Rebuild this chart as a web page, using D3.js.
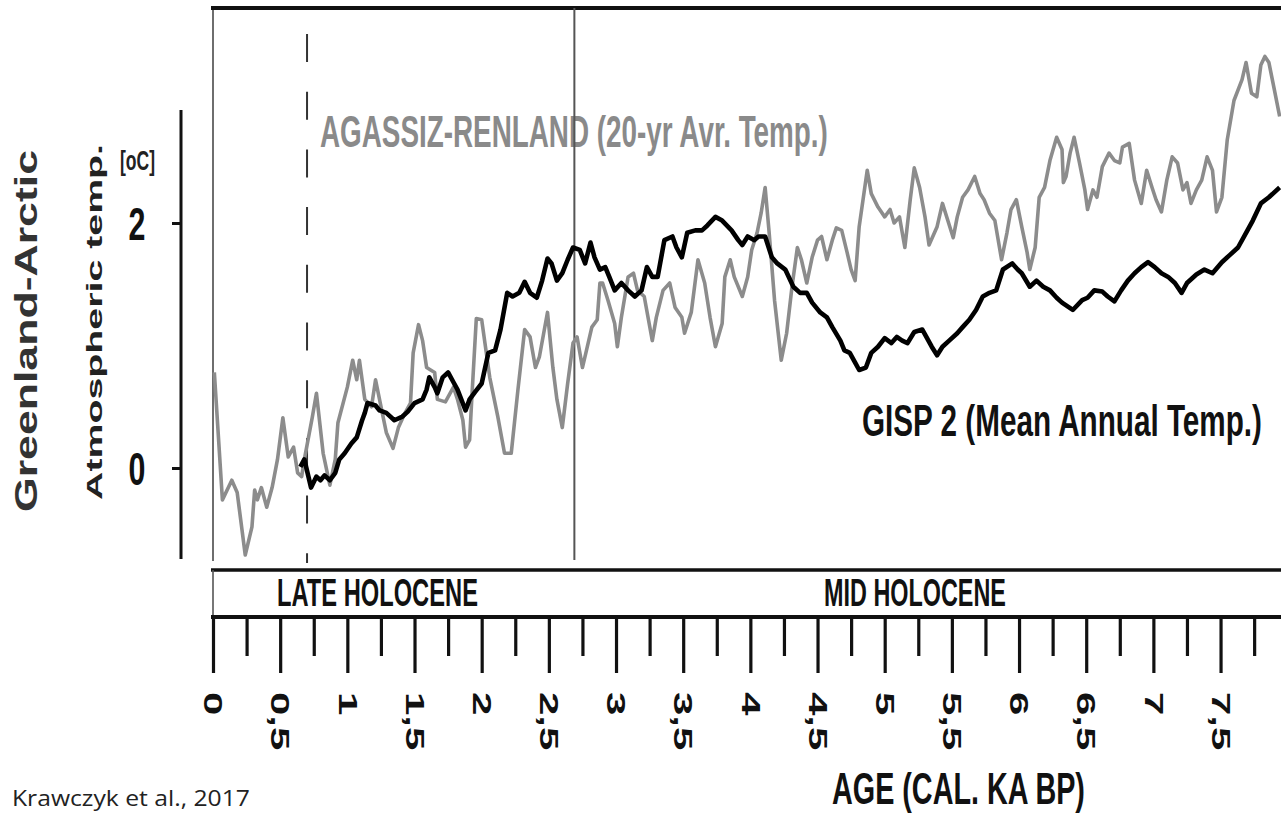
<!DOCTYPE html>
<html><head><meta charset="utf-8">
<script src="https://cdn.jsdelivr.net/npm/d3@7"></script>
<style>body{margin:0;background:#fff}svg{display:block}</style>
</head><body><svg id="c" width="1281" height="816"></svg>
<script>
// ---------- DATA ----------
const agassizAge = [0.01,0.07,0.14,0.18,0.24,0.29,0.31,0.33,0.36,0.40,
0.44,0.48,0.52,0.56,0.60,0.63,0.66,0.68,0.74,0.77,
0.82,0.87,0.91,0.93,1.00,1.04,1.07,1.09,1.13,1.18,
1.21,1.26,1.29,1.34,1.38,1.43,1.47,1.49,1.53,1.56,
1.59,1.65,1.67,1.73,1.79,1.82,1.86,1.88,1.91,1.93,
1.96,2.00,2.06,2.12,2.17,2.22,2.27,2.32,2.36,2.40,
2.43,2.49,2.53,2.56,2.60,2.64,2.68,2.71,2.75,2.78,
2.82,2.86,2.88,2.90,2.94,2.99,3.01,3.04,3.09,3.13,
3.16,3.21,3.27,3.30,3.35,3.40,3.44,3.49,3.51,3.56,
3.61,3.66,3.70,3.74,3.79,3.81,3.85,3.88,3.94,3.98,
4.01,4.05,4.08,4.11,4.14,4.18,4.23,4.27,4.31,4.35,
4.38,4.42,4.46,4.50,4.53,4.57,4.61,4.64,4.68,4.72,
4.75,4.78,4.81,4.87,4.90,4.95,5.00,5.04,5.07,5.11,
5.15,5.19,5.22,5.26,5.30,5.33,5.39,5.43,5.47,5.51,
5.54,5.58,5.62,5.67,5.71,5.74,5.78,5.82,5.87,5.91,
5.94,5.98,6.02,6.06,6.08,6.12,6.15,6.19,6.23,6.28,
6.32,6.33,6.35,6.38,6.41,6.45,6.49,6.51,6.55,6.58,
6.62,6.67,6.71,6.75,6.77,6.82,6.86,6.91,6.95,6.99,
7.02,7.06,7.10,7.14,7.18,7.22,7.25,7.28,7.32,7.36,
7.40,7.44,7.47,7.51,7.55,7.60,7.66,7.69,7.73,7.77,
7.80,7.83,7.86,7.90,7.94];
const agassizTemp = [0.78,-0.26,-0.10,-0.20,-0.71,-0.48,-0.18,-0.26,-0.16,-0.32,
-0.16,0.07,0.41,0.09,0.17,-0.04,-0.07,0.07,0.42,0.61,
0.12,-0.14,0.07,0.37,0.66,0.88,0.72,0.88,0.56,0.50,
0.72,0.45,0.29,0.16,0.33,0.45,0.53,0.94,1.17,1.04,
0.82,0.78,0.56,0.54,0.66,0.56,0.39,0.17,0.23,0.64,
1.22,1.21,0.74,0.42,0.12,0.12,0.64,1.13,1.07,0.82,
0.91,1.27,0.82,0.56,0.33,0.69,1.02,1.07,0.82,0.96,
1.15,1.21,1.51,1.51,1.37,1.18,0.99,1.23,1.56,1.59,
1.45,1.40,1.04,1.23,1.45,1.51,1.31,1.23,1.10,1.27,
1.70,1.51,1.23,0.99,1.18,1.56,1.70,1.56,1.40,1.56,
1.78,1.92,2.08,2.29,1.92,1.37,0.88,1.10,1.48,1.80,
1.70,1.51,1.72,1.86,1.89,1.70,1.86,1.96,1.94,1.76,
1.62,1.53,1.97,2.43,2.24,2.13,2.05,2.11,2.00,2.05,
1.80,2.19,2.45,2.29,2.05,1.82,1.97,2.16,2.02,1.88,
2.05,2.21,2.27,2.38,2.24,2.19,2.08,2.02,1.70,1.92,
2.11,2.19,1.97,1.76,1.62,1.80,2.21,2.29,2.51,2.70,
2.60,2.33,2.38,2.57,2.70,2.49,2.27,2.11,2.27,2.21,
2.46,2.57,2.51,2.49,2.62,2.65,2.35,2.16,2.43,2.29,
2.19,2.09,2.35,2.54,2.49,2.27,2.33,2.16,2.27,2.35,
2.54,2.43,2.09,2.21,2.68,3.00,3.17,3.31,3.06,3.03,
3.29,3.36,3.31,3.09,2.87];

const gispAge = [0.65,0.68,0.73,0.77,0.80,0.83,0.87,0.91,0.94,0.98,
1.03,1.07,1.11,1.13,1.15,1.21,1.24,1.29,1.35,1.41,
1.45,1.50,1.56,1.59,1.61,1.65,1.67,1.71,1.75,1.79,
1.82,1.88,1.91,1.95,2.00,2.05,2.10,2.14,2.19,2.23,
2.28,2.32,2.36,2.41,2.45,2.49,2.52,2.56,2.60,2.64,
2.68,2.73,2.77,2.81,2.84,2.88,2.92,2.95,2.99,3.04,
3.09,3.14,3.19,3.23,3.27,3.31,3.36,3.42,3.45,3.49,
3.53,3.59,3.64,3.68,3.74,3.79,3.86,3.91,3.94,3.98,
4.03,4.06,4.11,4.16,4.20,4.26,4.32,4.37,4.42,4.46,
4.52,4.57,4.61,4.67,4.70,4.74,4.78,4.81,4.86,4.90,
4.95,5.00,5.05,5.09,5.13,5.17,5.22,5.28,5.31,5.35,
5.39,5.43,5.48,5.54,5.58,5.63,5.68,5.73,5.78,5.83,
5.88,5.95,5.99,6.02,6.08,6.13,6.18,6.23,6.28,6.32,
6.40,6.47,6.51,6.56,6.62,6.66,6.71,6.76,6.81,6.86,
6.91,6.96,7.01,7.06,7.11,7.16,7.21,7.25,7.32,7.38,
7.44,7.51,7.57,7.63,7.69,7.74,7.80,7.86,7.94];
const gispTemp = [0.01,0.07,-0.16,-0.07,-0.10,-0.06,-0.10,-0.04,0.07,0.12,
0.20,0.25,0.39,0.45,0.53,0.51,0.47,0.45,0.39,0.42,
0.46,0.53,0.56,0.64,0.74,0.66,0.61,0.74,0.78,0.70,
0.64,0.47,0.56,0.62,0.69,0.94,0.96,1.13,1.43,1.40,
1.43,1.52,1.43,1.39,1.53,1.71,1.67,1.53,1.59,1.70,
1.80,1.78,1.67,1.84,1.72,1.62,1.64,1.56,1.45,1.51,
1.45,1.40,1.45,1.64,1.56,1.56,1.86,1.89,1.80,1.72,
1.92,1.94,1.94,1.98,2.05,2.02,1.94,1.86,1.82,1.89,
1.86,1.89,1.89,1.72,1.67,1.62,1.48,1.43,1.43,1.35,
1.27,1.23,1.15,1.04,0.96,0.94,0.86,0.80,0.82,0.94,
0.99,1.06,1.02,1.07,1.04,1.02,1.11,1.13,1.07,0.99,
0.92,0.99,1.04,1.10,1.15,1.21,1.29,1.40,1.43,1.45,
1.62,1.67,1.62,1.59,1.48,1.53,1.48,1.45,1.39,1.35,
1.29,1.37,1.39,1.45,1.44,1.40,1.36,1.45,1.53,1.59,
1.64,1.68,1.64,1.59,1.56,1.51,1.43,1.51,1.58,1.62,
1.59,1.68,1.74,1.80,1.92,2.02,2.16,2.21,2.29];

const xMajorTicks = [0,0.5,1,1.5,2,2.5,3,3.5,4,4.5,5,5.5,6,6.5,7,7.5];
const xTickLabels = ["0","0,5","1","1,5","2","2,5","3","3,5","4","4,5","5","5,5","6","6,5","7","7,5"];
const xMinorTicks = [0.25,0.75,1.25,1.75,2.25,2.75,3.25,3.75,4.25,4.75,5.25,5.75,6.25,6.75,7.25,7.75];
const yTicks = [0,2];
const yTickLabels = ["0","2"];
const boundaryAges = [0.70, 2.69];            // dashed, solid
const periodNames = ["LATE HOLOCENE","MID HOLOCENE"];
const seriesNames = ["AGASSIZ-RENLAND (20-yr Avr. Temp.)","GISP 2 (Mean Annual Temp.)"];

// ---------- DRAW ----------
const W = 1281, H = 816;
const svg = d3.select("#c");
const F = "'Liberation Sans', Arial, sans-serif";
const x = d3.scaleLinear().domain([0, 7.95]).range([213, 1281]);
const y = d3.scaleLinear().domain([0, 2]).range([468, 223]);

svg.append("rect").attr("width", W).attr("height", H).attr("fill", "#fff");

// horizontal text squeezed to a target width with a real transform
function hText(t, x0, base, size, len, color, weight, family) {
  const el = svg.append("text").attr("x", 0).attr("y", 0)
    .attr("font-family", family || F).attr("font-size", size)
    .attr("font-weight", weight || "bold").attr("fill", color).text(t);
  const w = el.node().getComputedTextLength() || len;
  el.attr("transform", `translate(${x0},${base}) scale(${len / w},1)`);
  return el;
}
hText(seriesNames[0], 320, 147, 45, 508, "#8a8a8a");
hText(seriesNames[1], 862, 436, 44, 400, "#111");

// plot frame
svg.append("line").attr("x1", 213).attr("x2", 213).attr("y1", 8).attr("y2", 561)
  .attr("stroke", "#6e6e6e").attr("stroke-width", 2);
svg.append("line").attr("x1", 211).attr("x2", W).attr("y1", 8).attr("y2", 8)
  .attr("stroke", "#111").attr("stroke-width", 4);

// boundaries
svg.append("line").attr("x1", x(boundaryAges[0])).attr("x2", x(boundaryAges[0]))
  .attr("y1", 34).attr("y2", 563).attr("stroke", "#333").attr("stroke-width", 2)
  .attr("stroke-dasharray", "28,29.7");
svg.append("line").attr("x1", x(boundaryAges[1])).attr("x2", x(boundaryAges[1]))
  .attr("y1", 8).attr("y2", 560).attr("stroke", "#555").attr("stroke-width", 2);

// series lines
const line = d3.line().x(d => x(d[0])).y(d => y(d[1]));
svg.append("path").datum(d3.zip(agassizAge, agassizTemp)).attr("d", line)
  .attr("fill", "none").attr("stroke", "#8c8c8c").attr("stroke-width", 3.6)
  .attr("stroke-linejoin", "round");
svg.append("path").datum(d3.zip(gispAge, gispTemp)).attr("d", line)
  .attr("fill", "none").attr("stroke", "#000").attr("stroke-width", 4.6)
  .attr("stroke-linejoin", "round");

// y axis
svg.append("line").attr("x1", 181).attr("x2", 181).attr("y1", 110).attr("y2", 559)
  .attr("stroke", "#111").attr("stroke-width", 3);
const gy = svg.append("g").attr("transform", "translate(181,0)")
  .call(d3.axisLeft(y).tickValues(yTicks).tickSize(9).tickFormat(""));
gy.select(".domain").remove();
gy.selectAll(".tick line").attr("stroke", "#111").attr("stroke-width", 3);
svg.selectAll(".ylab").data(yTicks).join("text").attr("class", "ylab")
  .attr("transform", d => `translate(137,${y(d) + 17}) scale(0.66,1)`)
  .attr("text-anchor", "middle").attr("font-family", F).attr("font-weight", "bold")
  .attr("font-size", 46).attr("fill", "#111")
  .text((d, i) => yTickLabels[i]);
hText("[oC]", 120, 170, 27, 35, "#222");

// y titles (rotated)
svg.append("text").attr("transform", "translate(37,331) rotate(-90) scale(1,0.62)")
  .attr("text-anchor", "middle").attr("font-family", F).attr("font-weight", "bold")
  .attr("font-size", 50).attr("fill", "#333")
  .attr("textLength", 362).attr("lengthAdjust", "spacingAndGlyphs").text("Greenland-Arctic");
svg.append("text").attr("transform", "translate(102,322) rotate(-90) scale(1,0.62)")
  .attr("text-anchor", "middle").attr("font-family", F).attr("font-weight", "bold")
  .attr("font-size", 37).attr("fill", "#222")
  .attr("textLength", 356).attr("lengthAdjust", "spacingAndGlyphs").text("Atmospheric temp.");

// period band
svg.append("line").attr("x1", 211).attr("x2", W).attr("y1", 570).attr("y2", 570)
  .attr("stroke", "#111").attr("stroke-width", 3.5);
svg.append("line").attr("x1", 213).attr("x2", 213).attr("y1", 570).attr("y2", 617)
  .attr("stroke", "#555").attr("stroke-width", 1.6);
hText(periodNames[0], 277, 606, 38, 201, "#111");
hText(periodNames[1], 824, 606, 38, 182, "#111");

// x axis
const gxMinor = svg.append("g").attr("transform", "translate(0,617)")
  .call(d3.axisBottom(x).tickValues(xMinorTicks).tickSize(39).tickFormat(""));
gxMinor.select(".domain").remove();
gxMinor.selectAll(".tick line").attr("stroke", "#111").attr("stroke-width", 3.2);
const gxMajor = svg.append("g").attr("transform", "translate(0,617)")
  .call(d3.axisBottom(x).tickValues(xMajorTicks).tickSize(56).tickFormat(""));
gxMajor.select(".domain").remove();
gxMajor.selectAll(".tick line").attr("stroke", "#111").attr("stroke-width", 3.2);
svg.append("line").attr("x1", 211).attr("x2", W).attr("y1", 617).attr("y2", 617)
  .attr("stroke", "#111").attr("stroke-width", 4);

svg.selectAll(".xlab").data(xMajorTicks).join("text").attr("class", "xlab")
  .attr("transform", d => `translate(${x(d)},692) rotate(90) scale(1,0.6)`)
  .attr("dominant-baseline", "central")
  .attr("font-family", F).attr("font-weight", "bold").attr("font-size", 42).attr("fill", "#111")
  .text((d, i) => xTickLabels[i]);

// x title & source
hText("AGE (CAL. KA BP)", 832, 804, 44, 253, "#111");
hText("Krawczyk et al., 2017", 12, 806, 22, 238, "#222", "normal", "'Open Sans', sans-serif");
</script></body></html>
